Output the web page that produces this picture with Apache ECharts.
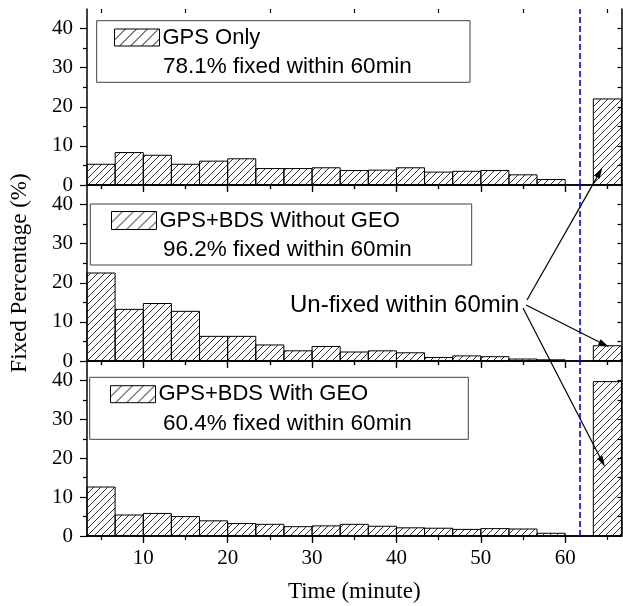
<!DOCTYPE html>
<html>
<head>
<meta charset="utf-8">
<script src="https://cdn.jsdelivr.net/npm/echarts@6/dist/echarts.min.js"></script>
<style>
  html, body { margin: 0; padding: 0; background: #fff; }
  #chart { width: 623px; height: 606px; }
</style>
</head>
<body>
<div id="chart"></div>
<script>
// bins are 3.33 min wide; last bin = not fixed within 60 min
const binLeft = [3.33, 6.67, 10, 13.33, 16.67, 20, 23.33, 26.67, 30, 33.33, 36.67, 40, 43.33, 46.67, 50, 53.33, 56.67, 63.33];
const binWidth = 3.33;

const gpsOnly    = [5.3, 8.3, 7.6, 5.3, 6.1, 6.7, 4.2, 4.2, 4.4, 3.7, 3.8, 4.4, 3.3, 3.5, 3.7, 2.6, 1.4, 22.0];
const withoutGeo = [22.5, 13.2, 14.7, 12.7, 6.3, 6.3, 4.1, 2.6, 3.7, 2.3, 2.6, 2.1, 0.9, 1.3, 1.1, 0.5, 0.3, 3.9];
const withGeo    = [12.6, 5.4, 5.8, 5.0, 3.9, 3.2, 3.0, 2.4, 2.6, 3.0, 2.5, 2.1, 2.0, 1.7, 1.9, 1.8, 0.7, 39.7];

const panelNames = ['GPS Only', 'GPS+BDS Without GEO', 'GPS+BDS With GEO'];
const panelNotes = ['78.1% fixed within 60min', '96.2% fixed within 60min', '60.4% fixed within 60min'];
const panelValues = [gpsOnly, withoutGeo, withGeo];

const xMajorTicks = [10, 20, 30, 40, 50, 60];
const xMinorTicks = [5, 15, 25, 35, 45, 55, 65];
const yMajorTicks = [0, 10, 20, 30, 40];
const yMinorTicks = [5, 15, 25, 35];
const yRightTicks = [5, 10, 15, 20, 25, 30, 35, 40];
const cutoffMinute = 61.67;

// annotation arrow tips (data coords per panel)
const arrowTips = [[64.4, 4.4], [65.2, 3.6], [64.7, 17.8]];

// layout
const gridTop = [9, 185, 361];
const gridHeight = [176, 176, 175];
const legendBox = [
  { x: 96.7, y: 20.7, w: 373.3, h: 61.6, iconY: 30, iconH: 17, iconX: 114 },
  { x: 90.3, y: 204, w: 381.4, h: 61, iconY: 212.5, iconH: 18, iconX: 111 },
  { x: 89.7, y: 377.3, w: 378.6, h: 62, iconY: 386.7, iconH: 17, iconX: 110 }
];
const noteY = [67, 249.5, 423.5];

const serif = 'Liberation Serif';
const sans = 'Liberation Sans';

function makeHatch(size, width) {
  const c = document.createElement('canvas');
  c.width = size; c.height = size;
  const ctx = c.getContext('2d');
  ctx.strokeStyle = '#000';
  ctx.lineWidth = width;
  ctx.beginPath();
  ctx.moveTo(-1, size + 1); ctx.lineTo(size + 1, -1);
  ctx.moveTo(-1, 1); ctx.lineTo(1, -1);
  ctx.moveTo(size - 1, size + 1); ctx.lineTo(size + 1, size - 1);
  ctx.stroke();
  return { image: c, repeat: 'repeat' };
}
const hatch = makeHatch(7, 0.8);
const legendHatch = makeHatch(11, 1);

function renderBin(params, api) {
  const p0 = api.coord([api.value(0), api.value(2)]);
  const p1 = api.coord([api.value(1), 0]);
  return {
    type: 'rect',
    shape: { x: p0[0], y: p0[1], width: p1[0] - p0[0], height: p1[1] - p0[1] },
    style: { fill: hatch, stroke: '#000', lineWidth: 1 }
  };
}

const axisLine = { show: true, lineStyle: { color: '#000', width: 1.5 } };
const tickStyle = { color: '#000', width: 1.2 };

const grids = [], xAxes = [], yAxes = [], series = [], legends = [], graphics = [];

for (let g = 0; g < 3; g++) {
  grids.push({ left: 87, width: 534.5, top: gridTop[g], height: gridHeight[g] });

  const xBase = { gridIndex: g, type: 'value', min: 3.33, max: 66.67, splitLine: { show: false } };
  xAxes.push(Object.assign({}, xBase, {
    position: 'bottom', axisLine,
    axisTick: { show: true, customValues: xMajorTicks, length: 7, lineStyle: tickStyle },
    axisLabel: g === 2
      ? { show: true, customValues: xMajorTicks, margin: 12, color: '#000', fontFamily: serif, fontSize: 21 }
      : { show: false },
    name: g === 2 ? 'Time (minute)' : '',
    nameLocation: 'middle', nameGap: 44,
    nameTextStyle: { color: '#000', fontFamily: serif, fontSize: 23 }
  }));
  xAxes.push(Object.assign({}, xBase, {
    position: 'bottom', axisLine: { show: false },
    axisTick: { show: true, customValues: xMinorTicks, length: 4, lineStyle: tickStyle },
    axisLabel: { show: false }
  }));
  xAxes.push(Object.assign({}, xBase, {
    position: 'top', axisLine,
    axisTick: { show: true, inside: true, customValues: xMajorTicks, length: 6, lineStyle: tickStyle },
    axisLabel: { show: false }
  }));
  xAxes.push(Object.assign({}, xBase, {
    position: 'top', axisLine: { show: false },
    axisTick: { show: true, inside: true, customValues: xMinorTicks, length: 4, lineStyle: tickStyle },
    axisLabel: { show: false }
  }));

  const yBase = { gridIndex: g, type: 'value', min: 0, max: 45, splitLine: { show: false } };
  yAxes.push(Object.assign({}, yBase, {
    position: 'left', axisLine,
    axisTick: { show: true, customValues: yMajorTicks, length: 7, lineStyle: tickStyle },
    axisLabel: { show: true, customValues: yMajorTicks, margin: 14, color: '#000', fontFamily: serif, fontSize: 21 },
    name: g === 1 ? 'Fixed Percentage (%)' : '',
    nameLocation: 'middle', nameGap: 56,
    nameTextStyle: { color: '#000', fontFamily: serif, fontSize: 23 }
  }));
  yAxes.push(Object.assign({}, yBase, {
    position: 'left', axisLine: { show: false },
    axisTick: { show: true, customValues: yMinorTicks, length: 4, lineStyle: tickStyle },
    axisLabel: { show: false }
  }));
  yAxes.push(Object.assign({}, yBase, {
    position: 'right', axisLine,
    axisTick: { show: true, inside: true, customValues: yRightTicks, length: 4, lineStyle: tickStyle },
    axisLabel: { show: false }
  }));

  series.push({
    name: panelNames[g],
    type: 'custom',
    xAxisIndex: g * 4,
    yAxisIndex: g * 3,
    renderItem: renderBin,
    encode: { x: [0, 1], y: 2 },
    itemStyle: { color: hatch, borderColor: '#000', borderWidth: 1 },
    data: panelValues[g].map((v, i) => [binLeft[i], binLeft[i] + binWidth, v]),
    markLine: {
      silent: true,
      symbol: 'none',
      label: { show: false },
      lineStyle: { color: '#0000ff', type: [6, 3], width: 1.6, opacity: 1 },
      data: [{ xAxis: cutoffMinute }]
    }
  });

  const b = legendBox[g];
  legends.push({
    data: [panelNames[g]],
    left: b.iconX,
    top: b.iconY + b.iconH / 2 - 12,
    padding: 0,
    icon: 'rect',
    itemWidth: 45,
    itemHeight: b.iconH,
    itemGap: 0,
    itemStyle: { color: legendHatch, borderColor: '#000', borderWidth: 1 },
    textStyle: { color: '#000', fontFamily: sans, fontSize: 22, padding: [0, 0, 0, -2] },
    selectedMode: false
  });
  graphics.push({
    type: 'rect', silent: true, z: 1,
    shape: { x: b.x, y: b.y, width: b.w, height: b.h },
    style: { fill: '#fff', stroke: '#404040', lineWidth: 1 }
  });
  graphics.push({
    type: 'text', silent: true, z: 2,
    x: 163, y: noteY[g],
    style: { text: panelNotes[g], fill: '#000', font: '22.5px "' + sans + '"', verticalAlign: 'middle' }
  });
}

graphics.push({
  type: 'text', silent: true, z: 2,
  x: 290, y: 305,
  style: { text: 'Un-fixed within 60min', fill: '#000', font: '24px "' + sans + '"', verticalAlign: 'middle' }
});

const chart = echarts.init(document.getElementById('chart'), null, { renderer: 'canvas' });
chart.setOption({
  animation: false,
  backgroundColor: '#fff',
  grid: grids,
  xAxis: xAxes,
  yAxis: yAxes,
  legend: legends,
  series: series,
  graphic: graphics
});

// arrows from the annotation text to the un-fixed bars
const arrowTails = [[527, 300], [526, 305], [523, 308]];
const arrowGraphics = [];
for (let g = 0; g < 3; g++) {
  const tip = chart.convertToPixel({ xAxisIndex: g * 4, yAxisIndex: g * 3 }, arrowTips[g]);
  const tail = arrowTails[g];
  const dx = tip[0] - tail[0], dy = tip[1] - tail[1];
  const len = Math.sqrt(dx * dx + dy * dy);
  const ux = dx / len, uy = dy / len;
  const bx = tip[0] - ux * 11, by = tip[1] - uy * 11;
  arrowGraphics.push({
    type: 'line', silent: true, z: 3,
    shape: { x1: tail[0], y1: tail[1], x2: bx, y2: by },
    style: { stroke: '#000', lineWidth: 1.2 }
  });
  arrowGraphics.push({
    type: 'polygon', silent: true, z: 3,
    shape: { points: [tip, [bx - uy * 3, by + ux * 3], [bx + uy * 3, by - ux * 3]] },
    style: { fill: '#000' }
  });
}
chart.setOption({ graphic: graphics.concat(arrowGraphics) });
</script>
</body>
</html>
